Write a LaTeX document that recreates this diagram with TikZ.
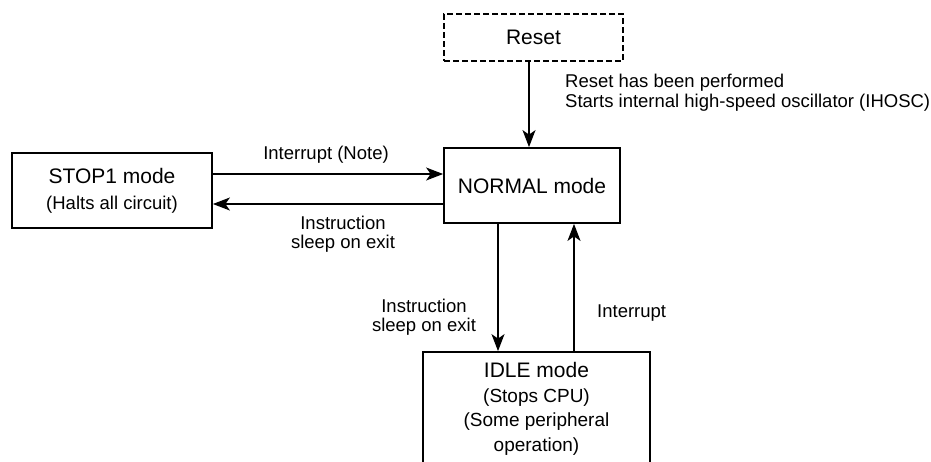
\documentclass[tikz,border=0pt]{standalone}
\usepackage{fontspec}
\setmainfont{Liberation Sans}
\usetikzlibrary{arrows.meta}
\begin{document}
\begin{tikzpicture}[x=1pt,y=-1pt,
  box/.style={draw,line width=1.8pt,rectangle,inner sep=0pt,align=center},
  big/.style={font=\fontsize{21}{26}\selectfont},
  small/.style={font=\fontsize{18.5}{19.5}\selectfont},
  arr/.style={line width=1.4pt,-{Stealth[length=17pt,width=13pt,inset=4.5pt]}}]
\useasboundingbox[fill=white] (0,0) rectangle (931,461);
\node[box,dashed,dash pattern=on 6pt off 3pt,line width=2.2pt,minimum width=179pt,minimum height=47pt,big] (reset) at (533.5,37.5) {Reset};
\node[box,minimum width=176pt,minimum height=75pt,big] (normal) at (532,185.5) {NORMAL mode};
\node[box,minimum width=200pt,minimum height=75pt,font=\fontsize{18.5}{26}\selectfont] (stop) at (112,190.5)
  {{\fontsize{21}{26}\selectfont STOP1 mode}\\(Halts all circuit)};
\node[box,minimum width=227pt,minimum height=114pt,font=\fontsize{19}{24.5}\selectfont] (idle) at (536.5,409)
  {{\fontsize{21}{24.5}\selectfont IDLE mode}\\(Stops CPU)\\(Some peripheral\\operation)};
\draw[arr] (reset.south -| 529,0) -- (normal.north -| 529,0);
\draw[arr] (stop.east |- 0,174) -- (normal.west |- 0,174);
\draw[arr] (normal.west |- 0,204) -- (stop.east |- 0,204);
\draw[arr] (normal.south -| 498,0) -- (idle.north -| 498,0);
\draw[arr] (idle.north -| 574,0) -- (normal.south -| 574,0);
\node[small,align=left,anchor=west,inner sep=0pt] (lreset) at (565,92.5) {Reset has been performed\\Starts internal high-speed oscillator (IHOSC)};
\node[small,inner sep=0pt] (lint1) at (326,155) {Interrupt (Note)};
\node[small,align=center,inner sep=0pt] (lins1) at (343,234) {Instruction\\sleep on exit};
\node[small,align=center,inner sep=0pt] (lins2) at (424,317) {Instruction\\sleep on exit};
\node[small,anchor=west,inner sep=0pt] (lint2) at (597,313) {Interrupt};
\end{tikzpicture}
\end{document}
